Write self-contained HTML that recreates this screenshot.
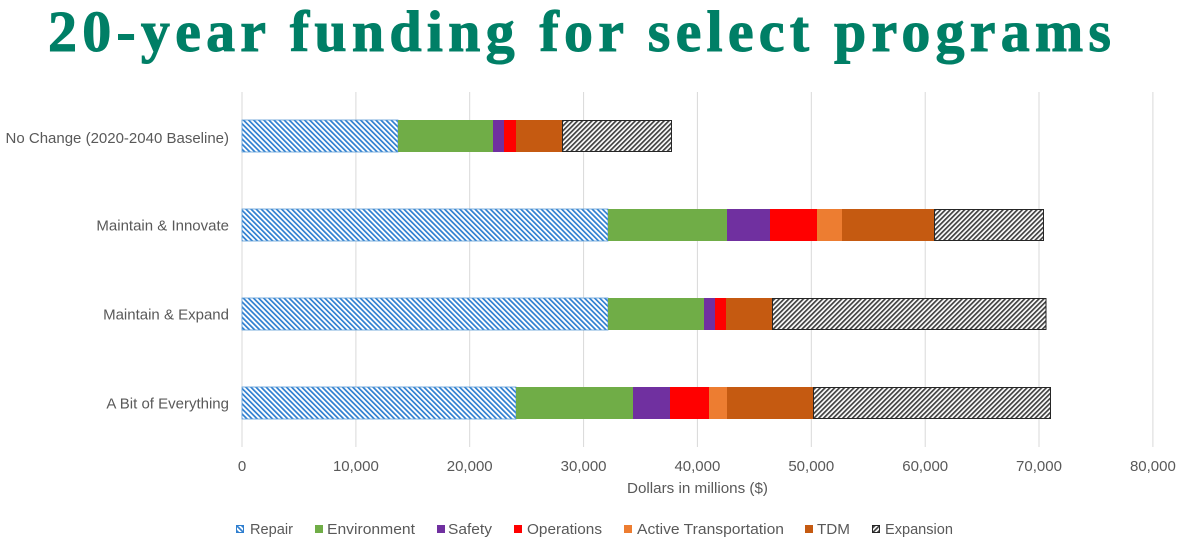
<!DOCTYPE html>
<html>
<head>
<meta charset="utf-8">
<style>
  html,body{margin:0;padding:0;background:#ffffff;}
  body{width:1185px;height:549px;overflow:hidden;}
  svg{display:block;}
</style>
</head>
<body>
<svg width="1185" height="549" viewBox="0 0 1185 549" xmlns="http://www.w3.org/2000/svg">
  <defs>
    <pattern id="repair" patternUnits="userSpaceOnUse" width="3.6" height="3.6" patternTransform="rotate(-45)">
      <rect width="3.6" height="3.6" fill="#ffffff"/>
      <rect x="0" y="0" width="1.7" height="3.6" fill="#2f7fd0"/>
    </pattern>
    <pattern id="expansion" patternUnits="userSpaceOnUse" width="3.4" height="3.4" patternTransform="rotate(45)">
      <rect width="3.4" height="3.4" fill="#ffffff"/>
      <rect x="0" y="0" width="1.7" height="3.4" fill="#404040"/>
    </pattern>
  </defs>

  <rect width="1185" height="549" fill="#ffffff"/>

  <!-- Title -->
  <text x="48" y="51" font-family="'Liberation Serif', serif" font-weight="bold" font-size="58" fill="#007f66" stroke="#007f66" stroke-width="1" textLength="1063" lengthAdjust="spacing">20-year funding for select programs</text>

  <!-- Gridlines -->
  <g stroke="#d9d9d9" stroke-width="1">
    <line x1="242" y1="92" x2="242" y2="447"/>
    <line x1="355.9" y1="92" x2="355.9" y2="447"/>
    <line x1="469.7" y1="92" x2="469.7" y2="447"/>
    <line x1="583.6" y1="92" x2="583.6" y2="447"/>
    <line x1="697.4" y1="92" x2="697.4" y2="447"/>
    <line x1="811.3" y1="92" x2="811.3" y2="447"/>
    <line x1="925.2" y1="92" x2="925.2" y2="447"/>
    <line x1="1039" y1="92" x2="1039" y2="447"/>
    <line x1="1152.9" y1="92" x2="1152.9" y2="447"/>
  </g>

  <!-- Bar 1: No Change -->
  <g>
    <rect x="242" y="120" width="156" height="32" fill="url(#repair)" stroke="#5b9bd5" stroke-width="0.8"/>
    <rect x="398" y="120" width="95" height="32" fill="#70ad47"/>
    <rect x="493" y="120" width="11" height="32" fill="#7030a0"/>
    <rect x="504" y="120" width="12" height="32" fill="#ff0000"/>
    <rect x="516" y="120" width="46" height="32" fill="#c55a11"/>
    <rect x="562.5" y="120.5" width="109" height="31" fill="url(#expansion)" stroke="#262626" stroke-width="1"/>
  </g>

  <!-- Bar 2: Maintain & Innovate -->
  <g>
    <rect x="242" y="209" width="366" height="32" fill="url(#repair)" stroke="#5b9bd5" stroke-width="0.8"/>
    <rect x="608" y="209" width="119" height="32" fill="#70ad47"/>
    <rect x="727" y="209" width="43" height="32" fill="#7030a0"/>
    <rect x="770" y="209" width="47" height="32" fill="#ff0000"/>
    <rect x="817" y="209" width="25" height="32" fill="#ed7d31"/>
    <rect x="842" y="209" width="92" height="32" fill="#c55a11"/>
    <rect x="934.5" y="209.5" width="109" height="31" fill="url(#expansion)" stroke="#262626" stroke-width="1"/>
  </g>

  <!-- Bar 3: Maintain & Expand -->
  <g>
    <rect x="242" y="298" width="366" height="32" fill="url(#repair)" stroke="#5b9bd5" stroke-width="0.8"/>
    <rect x="608" y="298" width="96" height="32" fill="#70ad47"/>
    <rect x="704" y="298" width="11" height="32" fill="#7030a0"/>
    <rect x="715" y="298" width="11" height="32" fill="#ff0000"/>
    <rect x="726" y="298" width="46" height="32" fill="#c55a11"/>
    <rect x="772.5" y="298.5" width="273.5" height="31" fill="url(#expansion)" stroke="#262626" stroke-width="1"/>
  </g>

  <!-- Bar 4: A Bit of Everything -->
  <g>
    <rect x="242" y="387" width="274" height="32" fill="url(#repair)" stroke="#5b9bd5" stroke-width="0.8"/>
    <rect x="516" y="387" width="117" height="32" fill="#70ad47"/>
    <rect x="633" y="387" width="37" height="32" fill="#7030a0"/>
    <rect x="670" y="387" width="39" height="32" fill="#ff0000"/>
    <rect x="709" y="387" width="18" height="32" fill="#ed7d31"/>
    <rect x="727" y="387" width="86" height="32" fill="#c55a11"/>
    <rect x="813.5" y="387.5" width="237" height="31" fill="url(#expansion)" stroke="#262626" stroke-width="1"/>
  </g>

  <!-- Category labels -->
  <g font-family="'Liberation Sans', Arial, sans-serif" font-size="15" fill="#595959" text-anchor="end">
    <text x="229" y="143">No Change (2020-2040 Baseline)</text>
    <text x="229" y="230.5">Maintain &amp; Innovate</text>
    <text x="229" y="319.5">Maintain &amp; Expand</text>
    <text x="229" y="408.5">A Bit of Everything</text>
  </g>

  <!-- Tick labels -->
  <g font-family="'Liberation Sans', Arial, sans-serif" font-size="15" fill="#595959" text-anchor="middle">
    <text x="242" y="471">0</text>
    <text x="355.9" y="471">10,000</text>
    <text x="469.7" y="471">20,000</text>
    <text x="583.6" y="471">30,000</text>
    <text x="697.4" y="471">40,000</text>
    <text x="811.3" y="471">50,000</text>
    <text x="925.2" y="471">60,000</text>
    <text x="1039" y="471">70,000</text>
    <text x="1152.9" y="471">80,000</text>
  </g>

  <!-- Axis title -->
  <text x="627" y="493" font-family="'Liberation Sans', Arial, sans-serif" font-size="15" fill="#595959" textLength="141" lengthAdjust="spacingAndGlyphs">Dollars in millions ($)</text>

  <!-- Legend -->
  <g>
    <rect x="236.5" y="525.5" width="7" height="7" fill="url(#repair)" stroke="#2f7fd0" stroke-width="1"/>
    <rect x="315" y="525" width="8" height="8" fill="#70ad47"/>
    <rect x="437" y="525" width="8" height="8" fill="#7030a0"/>
    <rect x="514" y="525" width="8" height="8" fill="#ff0000"/>
    <rect x="624" y="525" width="8" height="8" fill="#ed7d31"/>
    <rect x="805" y="525" width="8" height="8" fill="#c55a11"/>
    <rect x="872.5" y="525.5" width="7" height="7" fill="url(#expansion)" stroke="#262626" stroke-width="1"/>
  </g>
  <g font-family="'Liberation Sans', Arial, sans-serif" font-size="15" fill="#595959">
    <text x="250" y="534" textLength="43" lengthAdjust="spacingAndGlyphs">Repair</text>
    <text x="327" y="534" textLength="88" lengthAdjust="spacingAndGlyphs">Environment</text>
    <text x="448" y="534" textLength="44" lengthAdjust="spacingAndGlyphs">Safety</text>
    <text x="527" y="534" textLength="75" lengthAdjust="spacingAndGlyphs">Operations</text>
    <text x="637" y="534" textLength="147" lengthAdjust="spacingAndGlyphs">Active Transportation</text>
    <text x="817" y="534" textLength="33" lengthAdjust="spacingAndGlyphs">TDM</text>
    <text x="885" y="534" textLength="68" lengthAdjust="spacingAndGlyphs">Expansion</text>
  </g>
</svg>
</body>
</html>
